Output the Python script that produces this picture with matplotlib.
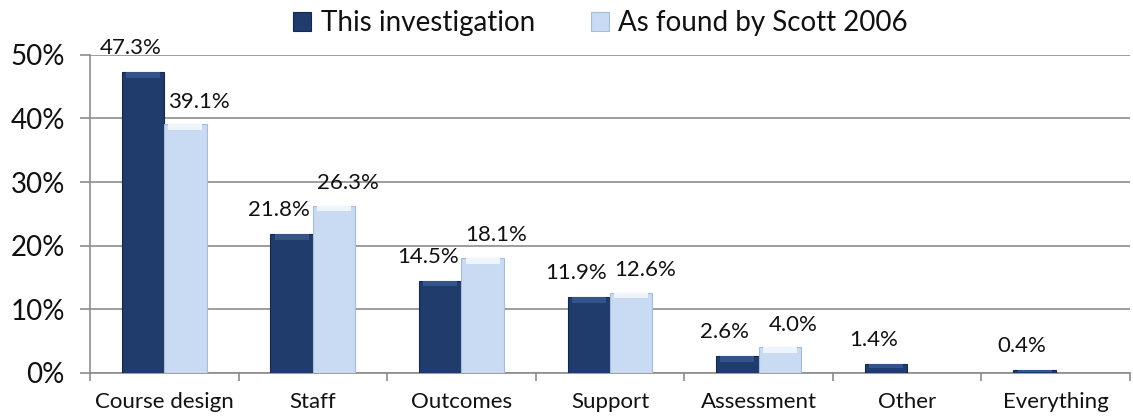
import numpy as np
import matplotlib.pyplot as plt
from matplotlib.ticker import FuncFormatter, MultipleLocator

categories = ['Course design', 'Staff', 'Outcomes', 'Support', 'Assessment', 'Other', 'Everything']
this_inv = [47.3, 21.8, 14.5, 11.9, 2.6, 1.4, 0.4]
scott_2006 = [39.1, 26.3, 18.1, 12.6, 4.0, np.nan, np.nan]
series_names = ['This investigation', 'As found by Scott 2006']

plt.rcParams['font.family'] = ['Lato', 'DejaVu Sans']

dark = '#1f3c6c'
light = '#c8dbf3'
txt = '#111111'

fig = plt.figure(figsize=(11.33, 4.19), dpi=100)
ax = fig.add_axes([0.0794, 0.110, 0.918, 0.759])

x = np.arange(len(categories))
w = 0.285

b1 = ax.bar(x - w / 2, this_inv, w, color=dark, edgecolor='#15294d', linewidth=0.8,
            label=series_names[0], zorder=3)
b2 = ax.bar(x + w / 2, scott_2006, w, color=light, edgecolor='#a7bcd8', linewidth=0.8,
            label=series_names[1], zorder=3)

# small highlight at the top of each bar, a bit like the bevel in the original
for vals, xs, c in [(this_inv, x - w / 2, '#34548a'), (scott_2006, x + w / 2, '#eef4fc')]:
    vals = np.array(vals, dtype=float)
    h = np.minimum(vals * 0.5, 0.9)
    ax.bar(xs, h, w * 0.8, bottom=vals - h, color=c, linewidth=0, zorder=4)

for xi, v in zip(x, this_inv):
    ax.annotate(f'{v:.1f}%', (xi - w / 2, v), xytext=(-9, 10), textcoords='offset points',
                ha='center', va='bottom', fontsize=16, color=txt)
for xi, v in zip(x, scott_2006):
    if np.isnan(v):
        continue
    ax.annotate(f'{v:.1f}%', (xi + w / 2, v), xytext=(10, 9), textcoords='offset points',
                ha='center', va='bottom', fontsize=16, color=txt)

ax.set_xlim(-0.5, len(categories) - 0.5)
ax.set_ylim(0, 50)
ax.yaxis.set_major_locator(MultipleLocator(10))
ax.yaxis.set_major_formatter(FuncFormatter(lambda v, p: f'{v:.0f}%'))
ax.grid(axis='y', color='#8c8c8c', linewidth=1.2, zorder=0)
ax.set_axisbelow(True)

ax.set_xticks(x)
ax.set_xticklabels(categories, fontsize=16, color=txt)
ax.set_xticks(np.arange(len(categories) + 1) - 0.5, minor=True)
ax.tick_params(axis='x', which='major', length=0, pad=14)
ax.tick_params(axis='x', which='minor', length=6, color='#8c8c8c', width=1.2)
ax.tick_params(axis='y', labelsize=20, labelcolor=txt, length=7, color='#8c8c8c', width=1.2, pad=11)

for s in ['top', 'right']:
    ax.spines[s].set_visible(False)
ax.spines['left'].set_color('#8c8c8c')
ax.spines['left'].set_linewidth(1.2)
ax.spines['bottom'].set_color('#8c8c8c')
ax.spines['bottom'].set_linewidth(1.2)

leg = fig.legend(handles=[b1, b2], labels=series_names, loc='upper center', bbox_to_anchor=(0.53, 1.035),
                 ncol=2, frameon=False, fontsize=20, handlelength=0.65, handleheight=0.65,
                 handletextpad=0.35, columnspacing=2.0)
for t in leg.get_texts():
    t.set_color(txt)

fig.savefig('out.png', dpi=100)
